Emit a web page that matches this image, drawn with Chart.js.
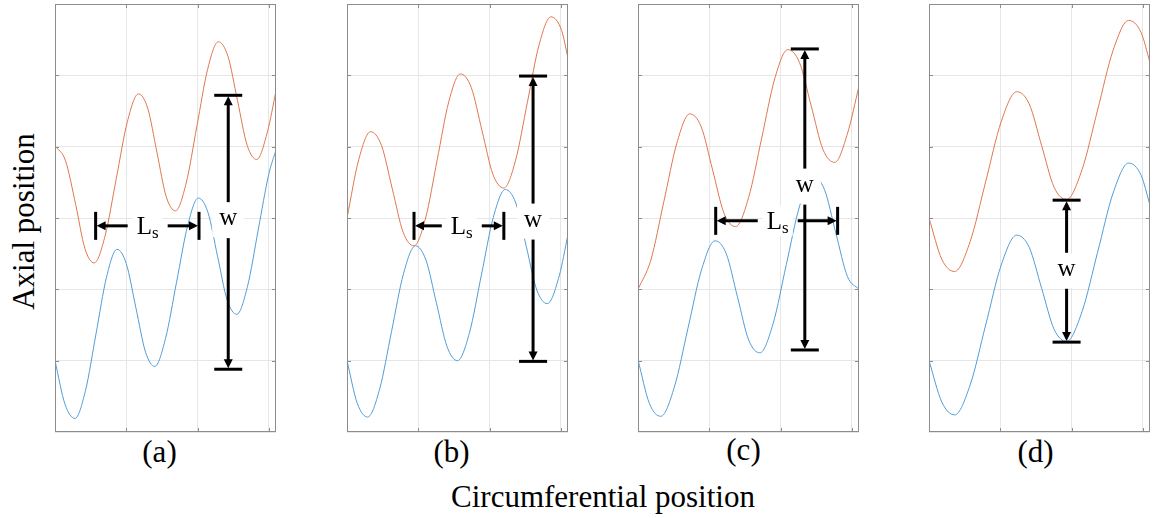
<!DOCTYPE html>
<html>
<head>
<meta charset="utf-8">
<script src="https://cdn.jsdelivr.net/npm/chart.js@4.4.1/dist/chart.umd.min.js"></script>
<style>
  body { margin: 0; width: 1155px; height: 518px; background: #fff; position: relative; overflow: hidden;
         font-family: "Liberation Serif", "Times New Roman", serif; }
  canvas { position: absolute; top: 0; }
  .txt { position: absolute; font-size: 31px; line-height: 31px; white-space: nowrap; color: #000; text-align: center; }
</style>
</head>
<body>
<div id="yTitle" class="txt" style="left:-127.5px; top:206px; width:300px; transform:rotate(-90deg);"></div>
<div id="xTitle" class="txt" style="left:353px; top:481px; width:500px;"></div>
<div id="lab0" class="txt" style="left:129.5px; top:436px; width:60px;"></div>
<div id="lab1" class="txt" style="left:421.5px; top:436px; width:60px;"></div>
<div id="lab2" class="txt" style="left:713.5px; top:434px; width:60px;"></div>
<div id="lab3" class="txt" style="left:1005.5px; top:436px; width:60px;"></div>
<canvas id="p0" width="241" height="440" style="left:45px"></canvas>
<canvas id="p1" width="241" height="440" style="left:337px"></canvas>
<canvas id="p2" width="241" height="440" style="left:628px"></canvas>
<canvas id="p3" width="241" height="440" style="left:919px"></canvas>
<script>
// texts
const yTitle = 'Axial position';
const xTitle = 'Circumferential position';
const panelLabels = ['(a)', '(b)', '(c)', '(d)'];

// axis ranges (grid every unit)
const xRange = [0, 3.1];
const yRange = [0, 6];

// curves
const orangeAX = [0, 0.145, 0.29, 0.42, 0.55, 0.705, 0.86, 1.015, 1.17, 1.30, 1.43, 1.56, 1.69, 1.84, 1.99, 2.14, 2.29, 2.425, 2.56, 2.695, 2.83, 2.98, 3.1];
const orangeAY = [4.01, 3.81, 3.19, 2.57, 2.37, 2.76, 3.555, 4.35, 4.74, 4.54, 3.92, 3.30, 3.10, 3.49, 4.285, 5.08, 5.47, 5.27, 4.645, 4.02, 3.82, 4.21, 4.78];
const blueAX = [0, 0.14, 0.28, 0.4275, 0.575, 0.7225, 0.87, 1.0, 1.135, 1.27, 1.40, 1.55, 1.705, 1.86, 2.01, 2.145, 2.28, 2.415, 2.55, 2.70, 2.85, 3.0, 3.1];
const blueAY = [1.0, 0.39, 0.19, 0.58, 1.375, 2.17, 2.56, 2.36, 1.74, 1.12, 0.92, 1.31, 2.10, 2.89, 3.28, 3.08, 2.465, 1.85, 1.65, 2.04, 2.83, 3.62, 3.95];

const orangeBX = [0, 0.165, 0.33, 0.4825, 0.635, 0.7875, 0.94, 1.1025, 1.265, 1.4275, 1.59, 1.7425, 1.895, 2.0475, 2.20, 2.365, 2.53, 2.695, 2.86, 3.01, 3.1];
const orangeBY = [3.0, 3.82, 4.21, 4.02, 3.41, 2.80, 2.61, 3.00, 3.815, 4.63, 5.02, 4.83, 4.22, 3.61, 3.42, 3.81, 4.62, 5.43, 5.82, 5.63, 5.24];
const blueBX = [0, 0.145, 0.29, 0.4575, 0.625, 0.7925, 0.96, 1.1075, 1.255, 1.4025, 1.55, 1.7175, 1.885, 2.0525, 2.22, 2.3675, 2.515, 2.6625, 2.81, 2.9775, 3.1];
const blueBY = [1.0, 0.40, 0.21, 0.60, 1.41, 2.22, 2.61, 2.41, 1.805, 1.20, 1.0, 1.39, 2.20, 3.01, 3.40, 3.21, 2.60, 1.99, 1.80, 2.19, 2.77];

const orangeCX = [0, 0.18, 0.3625, 0.545, 0.725, 0.886, 1.0475, 1.209, 1.37, 1.5525, 1.735, 1.9175, 2.10, 2.265, 2.43, 2.595, 2.76, 2.94, 3.1];
const orangeCY = [2.0, 2.41, 3.23, 4.05, 4.46, 4.28, 3.67, 3.06, 2.88, 3.29, 4.12, 4.95, 5.36, 5.18, 4.57, 3.96, 3.78, 4.19, 4.85];
const blueCX = [0, 0.16, 0.32, 0.51, 0.70, 0.89, 1.08, 1.2375, 1.395, 1.5525, 1.71, 1.895, 2.08, 2.2675, 2.455, 2.615, 2.775, 2.9375, 3.1];
const blueCY = [1.01, 0.40, 0.22, 0.63, 1.45, 2.27, 2.68, 2.50, 1.895, 1.29, 1.11, 1.52, 2.345, 3.17, 3.58, 3.40, 2.79, 2.18, 2.0];

const orangeDX = [0, 0.18, 0.36, 0.5775, 0.795, 1.0125, 1.23, 1.405, 1.58, 1.755, 1.93, 2.1475, 2.365, 2.5825, 2.80, 2.975, 3.1];
const orangeDY = [3.0, 2.42, 2.25, 2.67, 3.51, 4.35, 4.77, 4.60, 4.015, 3.43, 3.26, 3.68, 4.515, 5.35, 5.77, 5.60, 5.18];
const blueDX = [0, 0.18, 0.36, 0.5775, 0.795, 1.0125, 1.23, 1.405, 1.58, 1.755, 1.93, 2.1475, 2.365, 2.5825, 2.80, 2.975, 3.1];
const blueDY = [1.0, 0.42, 0.24, 0.66, 1.50, 2.34, 2.76, 2.59, 2.015, 1.44, 1.27, 1.69, 2.52, 3.35, 3.77, 3.60, 3.18];

// annotations: Ls = [x1, x2, y, labelX], w = [x, y1, y2, labelY]
const lsMarks = [[0.57, 2.02, 2.89, 1.30], [0.94, 2.20, 2.89, 1.61], [1.09, 2.80, 2.96, 1.96], null];
const wMarks = [[2.43, 0.88, 4.72, 2.97], [2.61, 0.99, 4.99, 2.95], [2.34, 1.15, 5.37, 3.44], [1.93, 1.26, 3.25, 2.26]];

const curves = [
  [[orangeAX, orangeAY], [blueAX, blueAY]],
  [[orangeBX, orangeBY], [blueBX, blueBY]],
  [[orangeCX, orangeCY], [blueCX, blueCY]],
  [[orangeDX, orangeDY], [blueDX, blueDY]]
];

document.getElementById('yTitle').textContent = yTitle;
document.getElementById('xTitle').textContent = xTitle;
panelLabels.forEach((t, i) => document.getElementById('lab' + i).textContent = t);

const SERIF = '"Liberation Serif", "Times New Roman", serif';

function cap(ctx, x, y, horizontal) {
  if (horizontal) ctx.fillRect(x - 14, y - 1.5, 28, 3);
  else ctx.fillRect(x - 1.5, y - 14, 3, 28);
}
function head(ctx, x, y, dx, dy) {
  // tip at (x,y), pointing along (dx,dy)
  const L = 9, H = 4.5;
  ctx.beginPath();
  ctx.moveTo(x, y);
  ctx.lineTo(x - dx * L - dy * H, y - dy * L + dx * H);
  ctx.lineTo(x - dx * L + dy * H, y - dy * L - dx * H);
  ctx.closePath();
  ctx.fill();
}
function seg(ctx, x1, y1, x2, y2) {
  ctx.beginPath();
  ctx.moveTo(x1, y1);
  ctx.lineTo(x2, y2);
  ctx.stroke();
}

const marksPlugin = {
  id: 'marks',
  afterDatasetsDraw(chart, args, opts) {
    const { ctx, chartArea: a, scales: { x, y } } = chart;
    ctx.save();
    // frame with inward ticks
    ctx.strokeStyle = '#8c8c8c';
    ctx.lineWidth = 1;
    ctx.strokeRect(a.left + 0.5, a.top + 0.5, a.right - a.left - 1, a.bottom - a.top - 1);
    ctx.beginPath();
    for (let v = 1; v <= 3; v++) {
      const px = Math.round(x.getPixelForValue(v)) + 0.5;
      ctx.moveTo(px, a.bottom); ctx.lineTo(px, a.bottom - 4);
      ctx.moveTo(px, a.top); ctx.lineTo(px, a.top + 4);
    }
    for (let v = 1; v <= 5; v++) {
      const py = Math.round(y.getPixelForValue(v)) + 0.5;
      ctx.moveTo(a.left, py); ctx.lineTo(a.left + 4, py);
      ctx.moveTo(a.right, py); ctx.lineTo(a.right - 4, py);
    }
    ctx.stroke();

    ctx.fillStyle = '#000';
    ctx.strokeStyle = '#000';
    ctx.lineWidth = 3;
    const gap = 20;
    if (opts.ls) {
      const [v1, v2, vy, vl] = opts.ls;
      const x1 = x.getPixelForValue(v1), x2 = x.getPixelForValue(v2);
      const py = y.getPixelForValue(vy), lx = x.getPixelForValue(vl);
      ctx.fillStyle = '#fff';
      ctx.fillRect(lx - 15, py - 15, 30, 30);
      ctx.fillStyle = '#000';
      cap(ctx, x1, py, false); cap(ctx, x2, py, false);
      seg(ctx, x1 + 8, py, lx - gap, py);
      seg(ctx, lx + gap, py, x2 - 8, py);
      head(ctx, x1 + 1, py, -1, 0);
      head(ctx, x2 - 1, py, 1, 0);
      ctx.textBaseline = 'alphabetic';
      ctx.font = '25px ' + SERIF;
      const wl = ctx.measureText('L').width;
      ctx.font = '17px ' + SERIF;
      const ws = ctx.measureText('s').width;
      const sx = lx - (wl + ws) / 2;
      ctx.font = '25px ' + SERIF;
      ctx.fillText('L', sx, py + 8);
      ctx.font = '17px ' + SERIF;
      ctx.fillText('s', sx + wl, py + 12);
    }
    if (opts.w) {
      const [vx, v1, v2, vl] = opts.w;
      const px = x.getPixelForValue(vx);
      const y1 = y.getPixelForValue(v1), y2 = y.getPixelForValue(v2);
      const ly = y.getPixelForValue(vl);
      ctx.fillStyle = '#fff';
      ctx.fillRect(px - 16, ly - 17, 32, 34);
      ctx.fillStyle = '#000';
      cap(ctx, px, y1, true); cap(ctx, px, y2, true);
      seg(ctx, px, y2 + 8, px, ly - 18);
      seg(ctx, px, ly + 18, px, y1 - 8);
      head(ctx, px, y2 + 1, 0, -1);
      head(ctx, px, y1 - 1, 0, 1);
      ctx.font = '25px ' + SERIF;
      ctx.textAlign = 'center';
      ctx.fillText('w', px, ly + 5);
    }
    ctx.restore();
  }
};

function gridOpts() {
  return { color: '#e6e6e6', lineWidth: 1, drawTicks: false };
}

function makePanel(i) {
  const colors = ['#e07650', '#519dd8'];
  const datasets = curves[i].map((c, k) => ({
    data: c[0].map((xv, j) => ({ x: xv, y: c[1][j] })),
    borderColor: colors[k],
    borderWidth: 1,
    pointRadius: 0,
    fill: false,
    cubicInterpolationMode: 'monotone'
  }));
  new Chart(document.getElementById('p' + i), {
    type: 'line',
    data: { datasets: datasets },
    options: {
      responsive: false,
      animation: false,
      events: [],
      layout: { padding: { left: 10, right: 10, top: 4, bottom: 8 } },
      plugins: {
        legend: { display: false },
        tooltip: { enabled: false },
        marks: { ls: lsMarks[i], w: wMarks[i] }
      },
      scales: {
        x: { type: 'linear', min: xRange[0], max: xRange[1],
             ticks: { display: false, stepSize: 1, includeBounds: false },
             grid: gridOpts(), border: { display: false } },
        y: { type: 'linear', min: yRange[0], max: yRange[1],
             ticks: { display: false, stepSize: 1 },
             grid: gridOpts(), border: { display: false } }
      }
    },
    plugins: [marksPlugin]
  });
}

for (let i = 0; i < 4; i++) makePanel(i);
</script>
</body>
</html>
